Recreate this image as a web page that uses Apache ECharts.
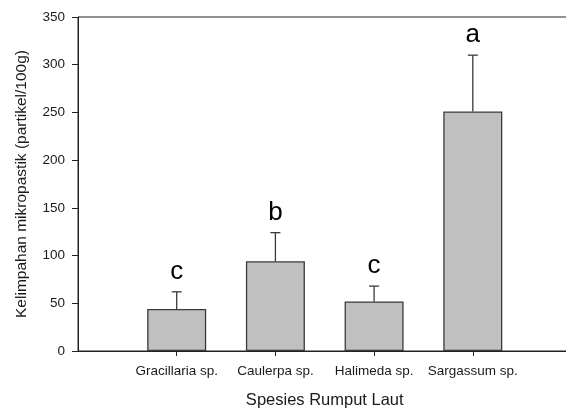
<!DOCTYPE html>
<html>
<head>
<meta charset="utf-8">
<script src="https://cdn.jsdelivr.net/npm/echarts@6/dist/echarts.min.js"></script>
<style>html,body{margin:0;padding:0;background:#fff;}#c{width:566px;height:409px;}</style>
</head>
<body>
<div id="c"></div>
<script>
const categories = ['Gracillaria sp.', 'Caulerpa sp.', 'Halimeda sp.', 'Sargassum sp.'];
const means = [44, 94, 52, 251];
const errTops = [62, 124, 68, 310];
const letters = ['c', 'b', 'c', 'a'];
const yTicks = [0, 50, 100, 150, 200, 250, 300, 350];

const axisData = [''].concat(categories).concat(['']);
const barData = [null].concat(means).concat([null]);
const errData = categories.map((c, i) => [c, means[i], errTops[i], letters[i]]);

const chart = echarts.init(document.getElementById('c'));
const font = '"Liberation Sans", Arial, sans-serif';
chart.setOption({
  animation: false,
  backgroundColor: '#fff',
  grid: { left: 78, top: 17, width: 493.5, height: 334, containLabel: false, outerBoundsMode: 'none',
          show: true, borderColor: '#222', borderWidth: 1, backgroundColor: 'transparent' },
  xAxis: {
    type: 'category',
    data: axisData,
    boundaryGap: false,
    name: 'Spesies Rumput Laut',
    nameLocation: 'middle',
    nameGap: 41,
    nameTextStyle: { fontSize: 16.5, color: '#1a1a1a', fontFamily: font },
    axisLine: { lineStyle: { color: '#222', width: 1 } },
    axisTick: { show: true, length: 5, interval: (i, v) => v !== '', lineStyle: { color: '#222' } },
    axisLabel: { interval: 0, fontSize: 13.5, color: '#1a1a1a', fontFamily: font, margin: 13 },
    splitLine: { show: false }
  },
  yAxis: {
    type: 'value',
    min: 0, max: 350, interval: 50,
    name: 'Kelimpahan mikropastik (partikel/100g)',
    nameLocation: 'middle',
    nameGap: 48,
    nameTextStyle: { fontSize: 15.5, color: '#1a1a1a', fontFamily: font },
    axisLine: { show: true, lineStyle: { color: '#222', width: 1 } },
    axisTick: { show: true, length: 6, lineStyle: { color: '#222' } },
    axisLabel: { fontSize: 13.5, color: '#1a1a1a', fontFamily: font, margin: 13,
      formatter: v => yTicks.includes(v) ? String(v) : '' },
    splitLine: { show: false }
  },
  series: [
    {
      type: 'bar',
      data: barData,
      barWidth: 59,
      itemStyle: { color: '#c0c0c0', borderColor: '#3a3a3a', borderWidth: 1.3 },
      z: 2
    },
    {
      type: 'custom',
      data: errData,
      z: 3,
      renderItem: function (params, api) {
        const x = api.value(0);
        const top = api.coord([x, api.value(1)]);
        const hi = api.coord([x, api.value(2)]);
        const cap = 5;
        const style = { stroke: '#3a3a3a', lineWidth: 1.3 };
        return {
          type: 'group',
          children: [
            { type: 'line', shape: { x1: top[0], y1: top[1], x2: hi[0], y2: hi[1] }, style },
            { type: 'line', shape: { x1: hi[0] - cap, y1: hi[1], x2: hi[0] + cap, y2: hi[1] }, style },
            { type: 'text', x: hi[0], y: hi[1] - 7,
              style: { text: letters[params.dataIndex], fontSize: 26, fontFamily: font, fill: '#000',
                       align: 'center', verticalAlign: 'bottom' } }
          ]
        };
      }
    }
  ]
});
</script>
</body>
</html>
